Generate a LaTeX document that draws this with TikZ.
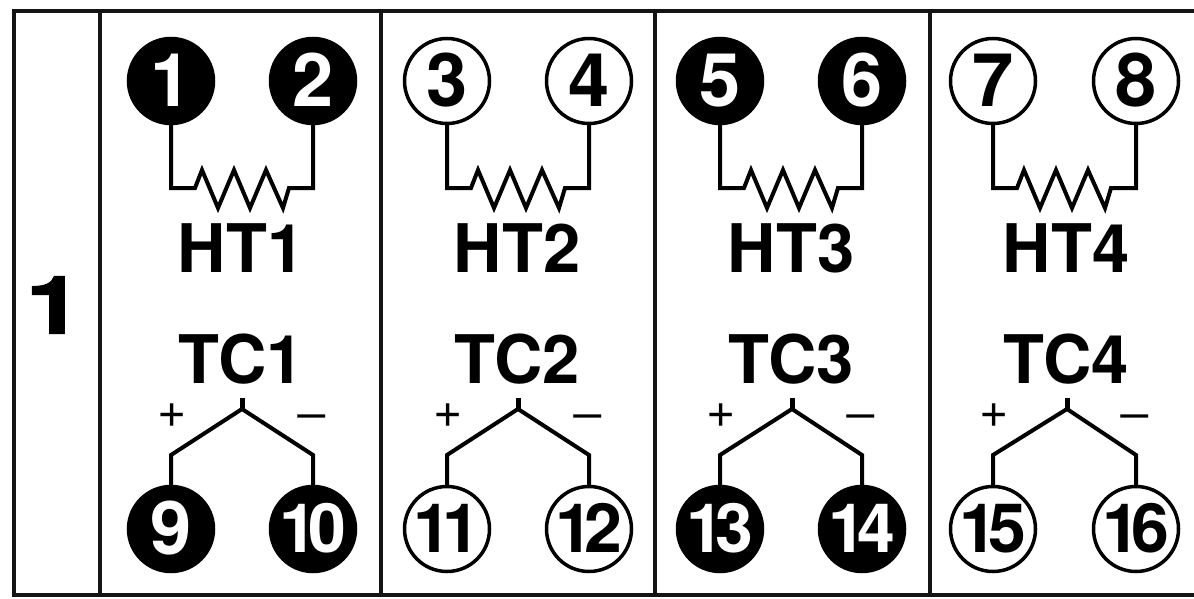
\documentclass[tikz,border=0pt]{standalone}
\usepackage{fontspec}
\setmainfont{TeX Gyre Heros}
\begin{document}
\begin{tikzpicture}[x=1pt,y=-1pt,
  wire/.style={line width=4pt,line join=miter,black},
  frameline/.style={line width=4.2pt,black!92},
  termfill/.style={circle,draw=black,line width=3.5pt,fill=black,text=white,minimum size=85pt,inner sep=0pt,font=\fontsize{74}{74}\bfseries},
  termopen/.style={circle,draw=black,line width=3.5pt,fill=white,text=black,minimum size=85pt,inner sep=0pt,font=\fontsize{74}{74}\bfseries},
  tag/.style={inner sep=0pt,font=\fontsize{67}{67}\bfseries},
  pol/.style={inner sep=0pt,font=\fontsize{50}{50}\selectfont},
  polm/.style={inner sep=0pt,xscale=1.3,font=\fontsize{48}{48}\selectfont},
]
\newcommand{\twod}[2]{\raisebox{2pt}{\fontsize{68}{68}\bfseries\mbox{#1\kern-9pt #2}}}
\newcommand{\oned}[1]{\raisebox{2pt}{#1}}
\path[use as bounding box] (0,0) rectangle (1194,599);
\fill[white] (0,0) rectangle (1194,599);
% frame
\coordinate (tl) at (14,11); \coordinate (tr) at (1194,11);
\coordinate (bl) at (14,595); \coordinate (br) at (1194,595);
\draw[frameline] (tr) -- (tl) -- (bl) -- (br);
\foreach \d/\dx in {a/100,b/381,c/655,d/930}{
  \coordinate (\d t) at (\dx,11); \coordinate (\d b) at (\dx,595);
  \draw[frameline] (\d t) -- (\d b);
}
\node[inner sep=0pt,xscale=1.25,font=\fontsize{80}{80}\bfseries] (row) at (54,305) {\addfontfeatures{FakeBold=2}1};
% columns
\foreach \n/\xl/\xr/\cx/\st/\ta/\tb/\tc/\td in {
  1/171/313/241/termfill/1/2/\oned{9}/\twod{1}{0},
  2/447/589/517/termopen/3/4/\twod{1}{1}/\twod{1}{2},
  3/720/862/791/termfill/5/6/\twod{1}{3}/\twod{1}{4},
  4/993/1136/1066/termopen/7/8/\twod{1}{5}/\twod{1}{6}}{
  \node[\st] (a\n) at (\xl,81) {\oned{\ta}};
  \node[\st] (b\n) at (\xr,81) {\oned{\tb}};
  \node[\st] (c\n) at (\xl,529) {\tc};
  \node[\st] (d\n) at (\xr,529) {\td};
  \node[tag,anchor=base] (ht\n) at (\cx,272) {HT\n};
  \node[tag,anchor=base] (tc\n) at (\cx,383) {TC\n};
  \node[pol] (plus\n) at (\xl+1,416) {+};
  \node[polm] (minus\n) at (\xr-1,422) {\textminus};
  % heater
  \draw[wire] (a\n.south) -- (\xl,188) -- (\xl+24,188)
    -- (\xl+31,170) -- (\xl+47,208) -- (\xl+63,170) -- (\xl+79,208)
    -- (\xl+95,170) -- (\xl+112,208) -- (\xl+118,188) -- (\xr,188) -- (b\n.south);
  % thermocouple
  \coordinate (apex\n) at (\cx+1,409);
  \coordinate (top\n) at (\cx+1,398);
  \draw[wire] (c\n.north) -- (\xl,455) -- (apex\n) -- (\xr,455) -- (d\n.north);
  \draw[wire,line width=5pt] (top\n) -- (apex\n);
}
\end{tikzpicture}
\end{document}
